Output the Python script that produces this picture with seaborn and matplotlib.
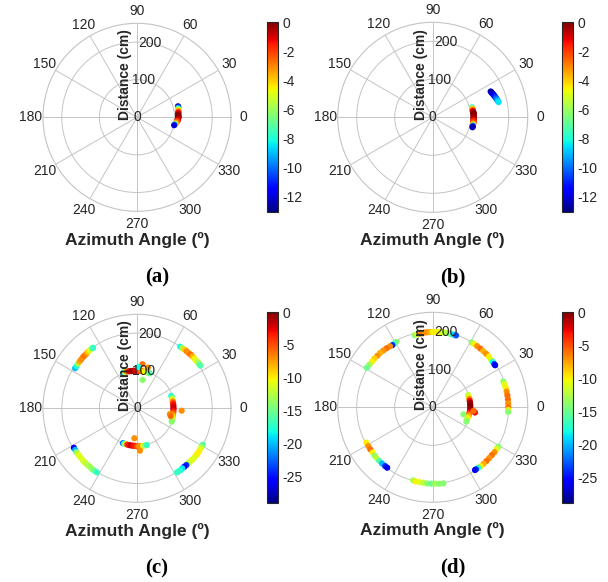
import numpy as np
import pandas as pd
import matplotlib
matplotlib.use("Agg")
import matplotlib.pyplot as plt
import seaborn as sns

# ---------------- data (angle in degrees, distance in cm, level in dB) -------------
# (a)
a_theta = [15, 14, 13, 12, 11, 10, 9, 8, 7, 6, 5, 4, 3, 2, 1, 0, -1, -2, -3, -4, -5, -6, -7, -8, -9, -10, -11, -12]
a_r = [113, 113, 112, 112, 112, 111, 111, 111, 111, 110, 110, 110, 110, 110, 110, 110, 110, 109, 109, 108, 108, 107, 106, 105, 104, 103, 102, 101]
a_val = [-12.5, -11.5, -9.5, -8, -6, -5, -4, -3, -2, -1.5, -1, -0.5, -0.3, -0.2, -0.1, 0, -0.2, -0.5, -0.8, -1, -1.5, -2, -2.5, -3, -4, -6, -9, -12]

# (b)
b_theta = [14, 13, 12, 11, 10, 9, 8, 7, 6, 5, 4, 3, 2, 1, 0, -1, -2, -3, -4, -5, -6, -7, -8, -9, -10, -11, -12, -13, -14,
           24, 23, 22, 21, 20, 19, 18, 17, 16, 15, 14, 13]
b_r = [107, 107, 107, 107, 107, 107, 107, 108, 108, 108, 108, 108, 108, 108, 108, 108, 108, 108, 108, 108, 108, 108, 108, 108, 108, 108, 108, 108, 108,
       167, 168, 169, 170, 171, 172, 173, 174, 175, 176, 177, 178]
b_val = [-8.5, -6, -4.5, -3.5, -2.5, -1.5, -1, -0.5, -0.3, -0.1, 0, -0.1, -0.2, -0.3, -0.5, -0.3, -0.5, -0.8, -1, -1.5, -2, -2, -2.5, -3, -4, -6, -10, -11.5, -12.5,
         -12.5, -12.5, -12.5, -12, -12, -11.5, -11, -10.5, -10, -9.5, -9, -8.5]

# (c)
c_theta = [147, 145, 143, 141, 139, 137, 135, 133, 131, 129, 127, 126,
           55, 53, 51, 49, 47, 45, 43, 41, 39, 37, 35, 34,
           212, 214, 216, 218, 220, 222, 224, 226, 228, 230, 232, 234, 236, 238,
           331, 329, 327, 325, 323, 321, 319, 317, 315, 313, 311, 309, 307, 305, 303, 302,
           111, 108, 105, 102, 99, 96, 93, 90, 87, 84, 81, 78, 75, 72, 70, 83, 79, 88, 75,
           20, 17, 14, 11, 8, 5, 2, -1, -4, -7, -10, -13, -16, -19, -21, -3, -10, -13,
           248, 250, 252, 255, 258, 261, 264, 267, 270, 273, 276, 279, 282, 285, 265, 274]
c_r = [196, 196, 197, 197, 197, 198, 198, 198, 199, 199, 199, 199,
       200, 200, 201, 201, 201, 202, 202, 202, 202, 203, 203, 203,
       198, 198, 199, 199, 199, 199, 200, 200, 200, 200, 200, 201, 201, 201,
       200, 200, 200, 201, 201, 201, 201, 201, 200, 200, 200, 200, 200, 201, 201, 201,
       102, 102, 101, 101, 100, 100, 100, 100, 100, 100, 100, 99, 99, 99, 99, 118, 77, 110, 112,
       97, 97, 97, 97, 97, 97, 97, 97, 97, 97, 97, 98, 98, 98, 99, 119, 89, 92,
       100, 100, 100, 100, 100, 100, 100, 100, 101, 101, 101, 101, 101, 101, 80, 113]
c_val = [-20, -18, -13, -8, -7, -7, -6, -7, -9, -11, -14, -17,
         -18, -13, -9, -7, -7, -6, -8, -10, -11, -13, -15, -16,
         -26, -20, -14, -11, -11, -11, -11, -12, -12, -13, -13, -14, -15, -17,
         -16, -13, -11, -10, -10, -10, -11, -11, -11, -12, -24, -26, -19, -18, -17, -17,
         -18, -11, -6, -3, -1, -0.5, -2, -2.5, -4, -6, -8, -10, -11, -13, -16, -6, -14, -18, -7,
         -18, -15, -11, -7, -4, -3, -2, -2, -3, -5, -7, -9, -11, -13, -14, -7, -7, -6,
         -22, -18, -11, -4, -3, -1.5, -3, -3.5, -5, -7, -7, -10, -13, -17, -7, -7]

# (d)
d_theta = [104, 102, 100, 98, 96, 94, 92, 90, 88, 86, 84, 82, 80, 78, 76, 74, 72,
           119, 121, 123, 125, 128, 131, 134, 137, 140, 143, 146, 149,
           59, 57, 54, 51, 48, 45, 42, 39, 37, 35, 34,
           20, 18, 15, 12, 9, 6, 3, 0, -2, -3.5,
           329, 327, 324, 321, 318, 315, 312, 309, 307, 305, 304,
           255, 257, 260, 263, 266, 269, 272, 275, 278,
           208, 211, 214, 217, 220, 222, 225, 228, 231, 233,
           19, 16, 13, 10, 7, 4, 1, -2, -5, -8, -11, -14, -17, -20, -23, -13, -7, -5]
d_r = [196, 197, 197, 197, 198, 198, 198, 198, 198, 199, 199, 199, 199, 199, 199, 199, 199,
       197, 196, 195, 196, 197, 198, 199, 199, 200, 200, 201, 202,
       199, 199, 199, 199, 199, 199, 199, 198, 198, 198, 198,
       198, 198, 199, 199, 199, 199, 199, 199, 199, 199,
       201, 201, 201, 200, 200, 200, 200, 200, 199, 199, 199,
       199, 200, 200, 200, 201, 201, 201, 202, 202,
       198, 198, 198, 198, 199, 199, 199, 199, 199, 199,
       99, 99, 99, 99, 99, 99, 99, 99, 99, 98, 97, 97, 96, 96, 96, 83, 112, 108]
d_val = [-14, -11, -7, -6, -7, -7, -8, -10, -10, -10, -11, -11, -12, -13, -15, -19, -23,
         -14, -16, -24, -7, -6, -7, -8, -7, -9, -10, -13, -15,
         -14, -10, -7, -6, -8, -7, -10, -11, -18, -24, -26,
         -14, -11, -10, -7, -6, -6, -7, -6, -10, -14,
         -14, -11, -7, -6, -7, -6, -8, -10, -17, -23, -26,
         -13, -10, -11, -12, -14, -15, -13, -14, -14,
         -10, -7, -6, -10, -14, -12, -16, -20, -24, -26,
         -12, -11, -7, -3, -1, -0.5, 0, -0.5, -1, -3, -6, -8, -10, -12, -14, -14, -3, -6]

r_ticks = [0, 100, 200]
theta_ticks = list(range(0, 360, 30))

panels = [
    ("(a)", a_theta, a_r, a_val, -13.1, [0, -2, -4, -6, -8, -10, -12]),
    ("(b)", b_theta, b_r, b_val, -13.1, [0, -2, -4, -6, -8, -10, -12]),
    ("(c)", c_theta, c_r, c_val, -29.0, [0, -5, -10, -15, -20, -25]),
    ("(d)", d_theta, d_r, d_val, -28.8, [0, -5, -10, -15, -20, -25]),
]

# ---------------- figure ----------------
W, H = 608, 582
sns.set_theme(style="white")
plt.rcParams["font.family"] = ["Liberation Sans", "DejaVu Sans"]
TXT = "#262626"
GRID = "#c4c4c4"

fig = plt.figure(figsize=(W / 100, H / 100), dpi=100)
fig.patch.set_facecolor("white")


def px_rect(x0, y0, x1, y1):
    return [x0 / W, 1 - y1 / H, (x1 - x0) / W, (y1 - y0) / H]


# layout: polar centre (cx, cy), radius R, colorbar x, top/bottom of colorbar
layout = [
    (137.0, 117.3, 94, 267, 22, 212),
    (432.7, 117.3, 95, 562, 22, 212),
    (137.0, 408.3, 94, 267, 312, 503),
    (432.7, 407.3, 95, 562, 312, 503),
]

cmap = matplotlib.colormaps["jet"]

for (label, th, rr, vv, vmin, cticks), (cx, cy, R, cbx, cbt, cbb) in zip(panels, layout):
    ax = fig.add_axes(px_rect(cx - R, cy - R, cx + R, cy + R), projection="polar")
    df = pd.DataFrame({"theta": np.deg2rad(th), "r": rr, "v": vv})
    sns.scatterplot(data=df, x="theta", y="r", hue="v", palette=cmap,
                    hue_norm=(vmin, 0), s=20, linewidth=0, legend=False, ax=ax,
                    zorder=3)
    ax.set_ylim(0, 250)
    ax.set_rticks(r_ticks)
    ax.set_yticklabels([])
    for rt in r_ticks:
        if rt == 0:
            ax.text(0, 0, "0", ha="center", va="center", fontsize=10, color=TXT, zorder=4)
        else:
            ax.text(np.deg2rad(80), rt, str(rt), ha="center", va="center",
                    fontsize=10, color=TXT, zorder=4)
    ax.set_thetagrids(theta_ticks, labels=[str(t) for t in theta_ticks])
    ax.grid(True, color=GRID, linewidth=0.7)
    ax.spines["polar"].set_color(GRID)
    ax.spines["polar"].set_linewidth(0.8)
    ax.tick_params(axis="x", length=0, pad=2, labelsize=10, labelcolor=TXT)
    ax.tick_params(axis="y", length=0)
    ax.set_xlabel("")
    ax.set_ylabel("")
    ax.set_facecolor("white")

    # axis labels
    fig.text((cx - 12) / W, 1 - (cy - 43) / H, "Distance (cm)", rotation=90,
             ha="center", va="center", fontsize=10, fontweight="bold", color=TXT)
    fig.text(cx / W, 1 - (cy + 123) / H, "Azimuth Angle (º)", ha="center",
             va="center", fontsize=12.5, fontweight="bold", color=TXT)
    fig.text((cx + 20) / W, 1 - (cy + 160) / H, label, ha="center", va="center",
             fontsize=15, fontweight="bold", family="Liberation Serif", color="black")

    # colorbar
    cax = fig.add_axes(px_rect(cbx, cbt, cbx + 11, cbb))
    sm = matplotlib.cm.ScalarMappable(norm=matplotlib.colors.Normalize(vmin, 0), cmap=cmap)
    cb = fig.colorbar(sm, cax=cax, ticks=cticks)
    cb.outline.set_edgecolor(TXT)
    cb.outline.set_linewidth(0.8)
    cax.tick_params(direction="in", length=3, width=0.6, color=TXT, labelsize=10,
                    labelcolor=TXT, pad=3)
    cax.set_yticklabels([str(t) for t in cticks])

fig.savefig("out.png", dpi=100)
